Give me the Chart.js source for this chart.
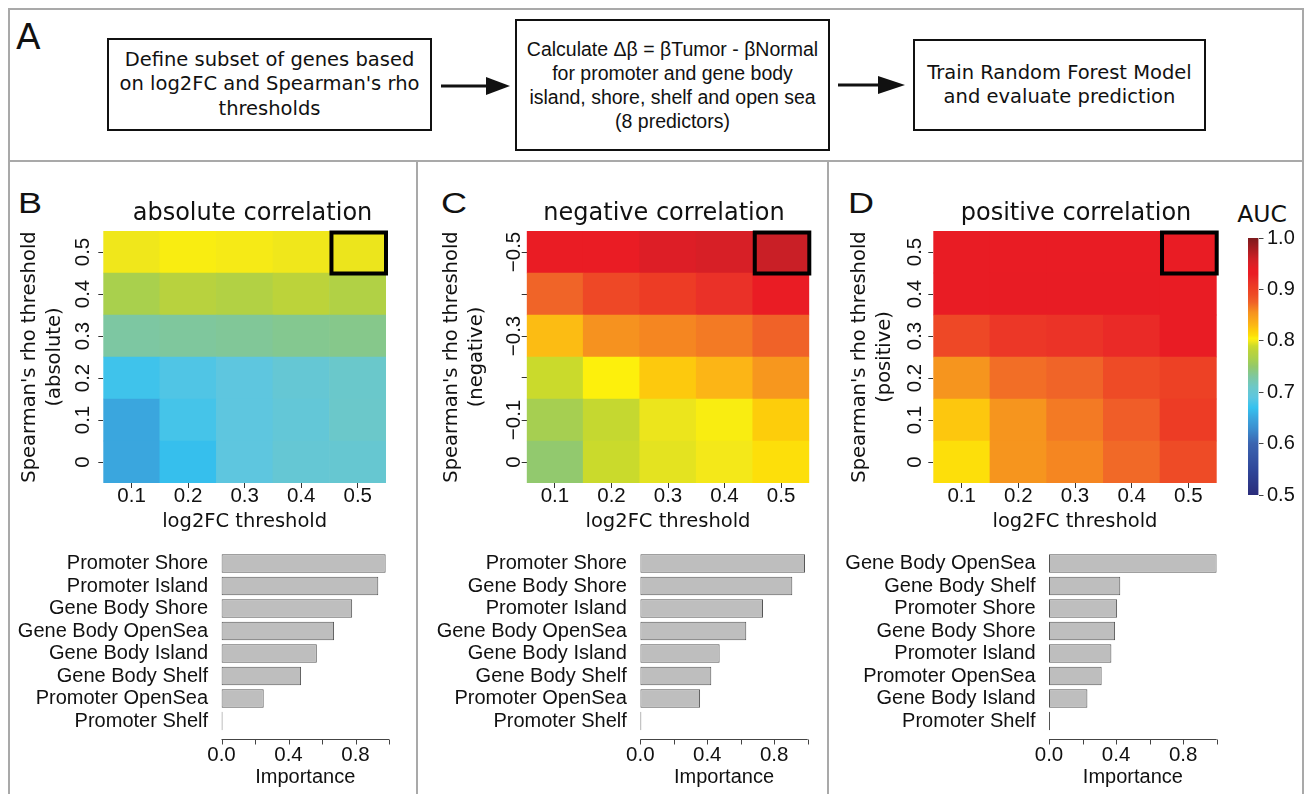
<!DOCTYPE html>
<html>
<head>
<meta charset="utf-8">
<title>AUC heatmaps and predictor importance</title>
<script src="https://cdn.jsdelivr.net/npm/chart.js@4.4.1/dist/chart.umd.min.js"></script>
<style>
  html, body { margin: 0; padding: 0; background: #fff; }
  #page { position: relative; width: 1311px; height: 794px; overflow: hidden; font-family: "DejaVu Sans", sans-serif; color: #111; }
  .rule { position: absolute; background: #a9a9a9; }
  .box { position: absolute; box-sizing: border-box; border: 2.5px solid #111; display: flex; align-items: center; justify-content: center; text-align: center; font-size: 19.5px; line-height: 24.5px; }
  .letter { position: absolute; font-family: "Liberation Sans", Arial, sans-serif; font-size: 30px; line-height: 30px; transform: scaleX(1.2); transform-origin: left top; }
  canvas { position: absolute; }
</style>
</head>
<body>
<div id="page">
  <div class="rule" style="left:8px;top:8px;width:1296px;height:2px"></div>
  <div class="rule" style="left:8px;top:8px;width:2px;height:786px"></div>
  <div class="rule" style="left:1302px;top:8px;width:2px;height:786px"></div>
  <div class="rule" style="left:8px;top:160px;width:1296px;height:2px"></div>
  <div class="rule" style="left:416px;top:160px;width:2px;height:634px"></div>
  <div class="rule" style="left:827px;top:160px;width:2px;height:634px"></div>

  <div style="position:absolute;left:16px;top:19px;font-size:36px;line-height:36px">A</div>
  <div class="box" style="left:107px;top:38px;width:325px;height:93px">Define subset of genes based<br>on log2FC and Spearman's rho<br>thresholds</div>
  <div class="box" style="left:515px;top:19px;width:315px;height:132px;font-family:'Liberation Sans',Arial,sans-serif;line-height:24px">Calculate &Delta;&beta; = &beta;Tumor - &beta;Normal<br>for promoter and gene body<br>island, shore, shelf and open sea<br>(8 predictors)</div>
  <div class="box" style="left:913px;top:39px;width:293px;height:92px">Train Random Forest Model<br>and evaluate prediction</div>
  <svg width="1311" height="160" style="position:absolute;left:0;top:0">
    <line x1="441" y1="86" x2="490" y2="86" stroke="#111" stroke-width="3"/>
    <polygon points="486,77 510,86 486,95" fill="#111"/>
    <line x1="838" y1="85" x2="882" y2="85" stroke="#111" stroke-width="3"/>
    <polygon points="878,76 905,85 878,94" fill="#111"/>
  </svg>

  <div class="letter" style="left:18px;top:188px">B</div>
  <div class="letter" style="left:441px;top:188px">C</div>
  <div class="letter" style="left:848px;top:188px">D</div>
  <div style="position:absolute;left:1222px;top:203px;width:80px;text-align:center;font-size:23.5px;line-height:23.5px">AUC</div>

  <canvas id="heatAbs"></canvas>
  <canvas id="heatNeg"></canvas>
  <canvas id="heatPos"></canvas>
  <canvas id="colorbar"></canvas>
  <canvas id="impAbs"></canvas>
  <canvas id="impNeg"></canvas>
  <canvas id="impPos"></canvas>
</div>

<script>
const log2fcLabels = ['0.1', '0.2', '0.3', '0.4', '0.5'];

const rhoAbsolute = [0, 0.1, 0.2, 0.3, 0.4, 0.5];
const rhoAbsoluteLabels = ['0', '0.1', '0.2', '0.3', '0.4', '0.5'];
const rhoNegative = [0, -0.1, -0.2, -0.3, -0.4, -0.5];
const rhoNegativeLabels = ['0', '\u22120.1', '', '\u22120.3', '', '\u22120.5'];
const rhoPositive = [0, 0.1, 0.2, 0.3, 0.4, 0.5];
const rhoPositiveLabels = ['0', '0.1', '0.2', '0.3', '0.4', '0.5'];

// AUC, one row per rho threshold (first row = rho 0), columns = log2FC 0.1 .. 0.5
const aucAbsolute = [
    [0.650, 0.668, 0.690, 0.700, 0.702],
    [0.650, 0.678, 0.690, 0.697, 0.708],
    [0.675, 0.683, 0.690, 0.700, 0.707],
    [0.729, 0.731, 0.733, 0.736, 0.738],
    [0.765, 0.777, 0.772, 0.780, 0.771],
    [0.799, 0.803, 0.801, 0.799, 0.798]
];
const aucNegative = [
    [0.749, 0.789, 0.796, 0.800, 0.810],
    [0.763, 0.786, 0.798, 0.803, 0.820],
    [0.789, 0.805, 0.822, 0.832, 0.852],
    [0.828, 0.855, 0.860, 0.865, 0.875],
    [0.874, 0.893, 0.905, 0.915, 0.930],
    [0.930, 0.930, 0.948, 0.952, 0.962]
];
const aucPositive = [
    [0.810, 0.853, 0.860, 0.872, 0.890],
    [0.823, 0.853, 0.865, 0.878, 0.905],
    [0.853, 0.870, 0.874, 0.890, 0.900],
    [0.893, 0.910, 0.913, 0.920, 0.935],
    [0.937, 0.940, 0.940, 0.940, 0.937],
    [0.933, 0.933, 0.933, 0.933, 0.933]
];

const featuresAbsolute = ['Promoter Shore', 'Promoter Island', 'Gene Body Shore', 'Gene Body OpenSea', 'Gene Body Island', 'Gene Body Shelf', 'Promoter OpenSea', 'Promoter Shelf'];
const importanceAbsolute = [0.980, 0.936, 0.780, 0.672, 0.569, 0.475, 0.252, 0];
const featuresNegative = ['Promoter Shore', 'Gene Body Shore', 'Promoter Island', 'Gene Body OpenSea', 'Gene Body Island', 'Gene Body Shelf', 'Promoter OpenSea', 'Promoter Shelf'];
const importanceNegative = [0.984, 0.908, 0.733, 0.633, 0.474, 0.424, 0.357, 0];
const featuresPositive = ['Gene Body OpenSea', 'Gene Body Shelf', 'Promoter Shore', 'Gene Body Shore', 'Promoter Island', 'Promoter OpenSea', 'Gene Body Island', 'Promoter Shelf'];
const importancePositive = [1.000, 0.425, 0.406, 0.394, 0.372, 0.314, 0.229, 0];

const importanceTicks = [0, 0.2, 0.4, 0.6, 0.8, 1.0];
const importanceLabels = ['0.0', '', '0.4', '', '0.8', ''];
const colorbarTicks = [0.5, 0.6, 0.7, 0.8, 0.9, 1.0];

// colour scale for AUC (blue -> cyan -> yellow -> red)
const aucStops = [0.50, 0.55, 0.60, 0.63, 0.65, 0.67, 0.69, 0.71, 0.73, 0.75, 0.765, 0.78, 0.79, 0.80, 0.805, 0.81, 0.82, 0.83, 0.855, 0.875, 0.89, 0.905, 0.915, 0.93, 0.94, 0.95, 0.96, 1.00];
const aucColors = ['#2b2c7b', '#30479a', '#3b64b0', '#3a8fd0', '#3aa6de', '#35c2ef', '#5ec6df', '#6cc8c8', '#7ec7a0', '#93c96b', '#a9d04d', '#bcd33a', '#cbdb2a', '#f4e819', '#fdf00c', '#fddf0a', '#fdcd0b', '#fcb815', '#f6921f', '#f06228', '#ee4b26', '#ed3c25', '#ea3128', '#ea1c24', '#e81c24', '#da1f26', '#cd1f26', '#7d1a1d'];

const TICK_FONT = { family: "'Liberation Sans', Arial, sans-serif", size: 20.5, lineHeight: 1.2 };
const LABEL_FONT = { family: "'Liberation Sans', Arial, sans-serif", size: 20, lineHeight: 1.2 };
const DEJAVU = "'DejaVu Sans', sans-serif";
const INK = '#111';

function hexToRgb(h) {
    const n = parseInt(h.slice(1), 16);
    return [n >> 16, (n >> 8) & 255, n & 255];
}

function aucColor(v) {
    let i = 0;
    while (i < aucStops.length - 2 && v > aucStops[i + 1]) i++;
    const t = Math.max(0, Math.min(1, (v - aucStops[i]) / (aucStops[i + 1] - aucStops[i])));
    const a = hexToRgb(aucColors[i]), b = hexToRgb(aucColors[i + 1]);
    const c = a.map((x, k) => Math.round(x + (b[k] - x) * t));
    return `rgb(${c[0]},${c[1]},${c[2]})`;
}

function place(id, f) {
    const cv = document.getElementById(id);
    cv.width = f.width;
    cv.height = f.height;
    cv.style.left = f.left + 'px';
    cv.style.top = f.top + 'px';
    cv.style.width = f.width + 'px';
    cv.style.height = f.height + 'px';
    return cv;
}

// the axes are laid out by hand, so drop the label overhang padding
function fixSize(s, w, h) {
    if (w !== undefined) s.width = w;
    if (h !== undefined) s.height = h;
    s.paddingTop = 0;
    s.paddingBottom = 0;
    s.paddingLeft = 0;
    s.paddingRight = 0;
}

// black frame round the top-right cell
const bestCellPlugin = {
    id: 'bestCell',
    afterDatasetsDraw(chart) {
        const meta = chart.getDatasetMeta(chart.data.datasets.length - 1);
        const cell = meta.data[log2fcLabels.length - 1];
        if (!cell) return;
        const { x, y, base, width } = cell.getProps(['x', 'y', 'base', 'width'], true);
        const top = Math.min(y, base), h = Math.abs(base - y);
        const ctx = chart.ctx;
        ctx.save();
        ctx.strokeStyle = '#000';
        ctx.lineWidth = 4;
        ctx.strokeRect(x - width / 2 + 2, top + 1.5, width - 2, h - 1);
        ctx.restore();
    }
};

// R style axis: line from first to last tick, a little below the bars
const importanceAxisPlugin = {
    id: 'importanceAxis',
    afterDraw(chart) {
        const { ctx, chartArea, scales: { x } } = chart;
        const y0 = Math.round(chartArea.bottom + 7) + 0.5;
        ctx.save();
        ctx.strokeStyle = '#444';
        ctx.lineWidth = 1;
        ctx.beginPath();
        ctx.moveTo(x.getPixelForValue(importanceTicks[0]), y0);
        ctx.lineTo(x.getPixelForValue(importanceTicks[importanceTicks.length - 1]), y0);
        importanceTicks.forEach(v => {
            const px = Math.round(x.getPixelForValue(v)) + 0.5;
            ctx.moveTo(px, y0);
            ctx.lineTo(px, y0 + 5);
        });
        ctx.stroke();
        ctx.restore();
    }
};

function drawHeatmap(cfg) {
    const cv = place(cfg.id, cfg.frame);
    const lo = Math.min(...cfg.rho) - 0.05;
    const hi = Math.max(...cfg.rho) + 0.05;
    new Chart(cv, {
        type: 'bar',
        data: {
            labels: log2fcLabels,
            datasets: cfg.rho.map((r, ri) => ({
                data: log2fcLabels.map(() => [r - 0.05, r + 0.05]),
                backgroundColor: cfg.auc[ri].map(aucColor),
                borderWidth: 0,
                grouped: false,
                barPercentage: 1,
                categoryPercentage: 1
            }))
        },
        options: {
            responsive: false,
            animation: false,
            events: [],
            devicePixelRatio: 1,
            layout: { padding: 0 },
            plugins: {
                legend: { display: false },
                tooltip: { enabled: false },
                title: {
                    display: true,
                    text: cfg.title,
                    color: INK,
                    font: { family: DEJAVU, size: 24, weight: 'normal', lineHeight: 1.2 },
                    padding: { top: 9.6, bottom: 2.6 }
                }
            },
            scales: {
                x: {
                    grid: { display: true, offset: false, drawOnChartArea: false, drawTicks: true, tickLength: 5, color: '#333' },
                    border: { display: false },
                    ticks: { font: TICK_FONT, color: INK, padding: -4.3, maxRotation: 0, autoSkip: false },
                    title: {
                        display: true,
                        text: 'log2FC threshold',
                        color: INK,
                        font: { family: DEJAVU, size: 19.5, lineHeight: 1.2 },
                        padding: { top: 0, bottom: 4.3 }
                    },
                    afterFit: s => fixSize(s, undefined, 55)
                },
                y: {
                    type: 'linear',
                    min: lo,
                    max: hi,
                    reverse: cfg.reverse,
                    bounds: 'data',
                    afterBuildTicks: s => { s.ticks = cfg.rho.map(v => ({ value: v })); },
                    grid: { display: true, drawOnChartArea: false, drawTicks: true, tickLength: 5, color: '#333' },
                    border: { display: false },
                    ticks: {
                        font: TICK_FONT,
                        color: INK,
                        padding: cfg.yTickPad,
                        minRotation: 90,
                        maxRotation: 90,
                        crossAlign: 'center',
                        autoSkip: false,
                        callback: (v, i) => cfg.rhoLabels[i]
                    },
                    title: {
                        display: true,
                        text: ["Spearman's rho threshold", cfg.yTitle],
                        color: INK,
                        font: { family: DEJAVU, size: 19.5, lineHeight: 1.28 },
                        padding: { top: cfg.yTitlePad, bottom: 0 }
                    },
                    afterFit: s => fixSize(s, cfg.yWidth)
                },
                yr: {
                    type: 'linear',
                    position: 'right',
                    display: true,
                    grid: { display: false },
                    border: { display: false },
                    ticks: { display: false },
                    afterFit: s => fixSize(s, cfg.rightWidth)
                }
            }
        },
        plugins: [bestCellPlugin]
    });
}

function drawImportance(cfg) {
    const cv = place(cfg.id, cfg.frame);
    new Chart(cv, {
        type: 'bar',
        data: {
            labels: cfg.features,
            datasets: [{
                data: cfg.values,
                backgroundColor: '#bebebe',
                borderColor: '#555',
                borderWidth: 1,
                borderSkipped: false,
                barPercentage: 0.833,
                categoryPercentage: 1,
                minBarLength: 1
            }]
        },
        options: {
            indexAxis: 'y',
            responsive: false,
            animation: false,
            events: [],
            devicePixelRatio: 1,
            layout: { padding: { top: 7.25, right: cfg.padRight, left: 0, bottom: 0 } },
            plugins: { legend: { display: false }, tooltip: { enabled: false } },
            scales: {
                x: {
                    type: 'linear',
                    min: importanceTicks[0],
                    max: importanceTicks[importanceTicks.length - 1],
                    bounds: 'data',
                    afterBuildTicks: s => { s.ticks = importanceTicks.map(v => ({ value: v })); },
                    grid: { display: false, drawTicks: false },
                    border: { display: false },
                    ticks: { font: TICK_FONT, color: INK, padding: 10.45, maxRotation: 0, autoSkip: false, callback: (v, i) => importanceLabels[i] },
                    title: { display: true, text: 'Importance', color: INK, font: LABEL_FONT, padding: { top: 0, bottom: 4.5 } },
                    afterFit: s => fixSize(s, undefined, 61.75)
                },
                y: {
                    grid: { display: false, drawTicks: false },
                    border: { display: false },
                    ticks: { font: LABEL_FONT, color: INK, padding: 13.5, autoSkip: false },
                    afterFit: s => fixSize(s, cfg.yWidth)
                }
            }
        },
        plugins: [importanceAxisPlugin]
    });
}

function drawColorbar() {
    const cv = place('colorbar', { left: 1236, top: 225, width: 75, height: 290 });
    const lo = colorbarTicks[0], hi = colorbarTicks[colorbarTicks.length - 1];
    new Chart(cv, {
        type: 'bar',
        data: {
            labels: ['AUC'],
            datasets: [{
                data: [[lo, hi]],
                backgroundColor: c => {
                    const chart = c.chart;
                    const y = chart.scales.y;
                    if (!y || !chart.chartArea) return aucColors[0];
                    const g = chart.ctx.createLinearGradient(0, y.getPixelForValue(lo), 0, y.getPixelForValue(hi));
                    aucStops.forEach((s, i) => g.addColorStop((s - lo) / (hi - lo), aucColors[i]));
                    return g;
                },
                borderWidth: 0,
                barPercentage: 1,
                categoryPercentage: 1
            }]
        },
        options: {
            responsive: false,
            animation: false,
            events: [],
            devicePixelRatio: 1,
            layout: { padding: { left: 12, top: 13, bottom: 20, right: 0 } },
            plugins: { legend: { display: false }, tooltip: { enabled: false } },
            scales: {
                x: { display: false },
                y: {
                    position: 'right',
                    min: lo,
                    max: hi,
                    bounds: 'data',
                    afterBuildTicks: s => { s.ticks = colorbarTicks.map(v => ({ value: v })); },
                    grid: { drawOnChartArea: false, drawTicks: true, tickLength: 5, color: '#444' },
                    border: { display: false },
                    ticks: { font: LABEL_FONT, color: INK, padding: 3.5, autoSkip: false, callback: v => v.toFixed(1) },
                    afterFit: s => fixSize(s, 52.5)
                }
            }
        }
    });
}

drawHeatmap({
    id: 'heatAbs', frame: { left: 12, top: 190, width: 481, height: 348 },
    title: 'absolute correlation', yTitle: '(absolute)',
    rho: rhoAbsolute, rhoLabels: rhoAbsoluteLabels, auc: aucAbsolute, reverse: false,
    yWidth: 91.3, rightWidth: 107, yTickPad: 0.5, yTitlePad: 5.5
});
drawHeatmap({
    id: 'heatNeg', frame: { left: 434, top: 190, width: 460, height: 348 },
    title: 'negative correlation', yTitle: '(negative)',
    rho: rhoNegative, rhoLabels: rhoNegativeLabels, auc: aucNegative, reverse: true,
    yWidth: 92.7, rightWidth: 84.7, yTickPad: -13, yTitlePad: 5.2
});
drawHeatmap({
    id: 'heatPos', frame: { left: 842, top: 190, width: 468, height: 348 },
    title: 'positive correlation', yTitle: '(positive)',
    rho: rhoPositive, rhoLabels: rhoPositiveLabels, auc: aucPositive, reverse: false,
    yWidth: 91.3, rightWidth: 93.3, yTickPad: -1, yTitlePad: 5.5
});
drawColorbar();
drawImportance({
    id: 'impAbs', frame: { left: 12, top: 545, width: 388, height: 249 },
    features: featuresAbsolute, values: importanceAbsolute, yWidth: 209.5, padRight: 11
});
drawImportance({
    id: 'impNeg', frame: { left: 425, top: 545, width: 393, height: 249 },
    features: featuresNegative, values: importanceNegative, yWidth: 215.3, padRight: 10.3
});
drawImportance({
    id: 'impPos', frame: { left: 840, top: 545, width: 388, height: 249 },
    features: featuresPositive, values: importancePositive, yWidth: 209, padRight: 11.3
});
</script>
</body>
</html>
